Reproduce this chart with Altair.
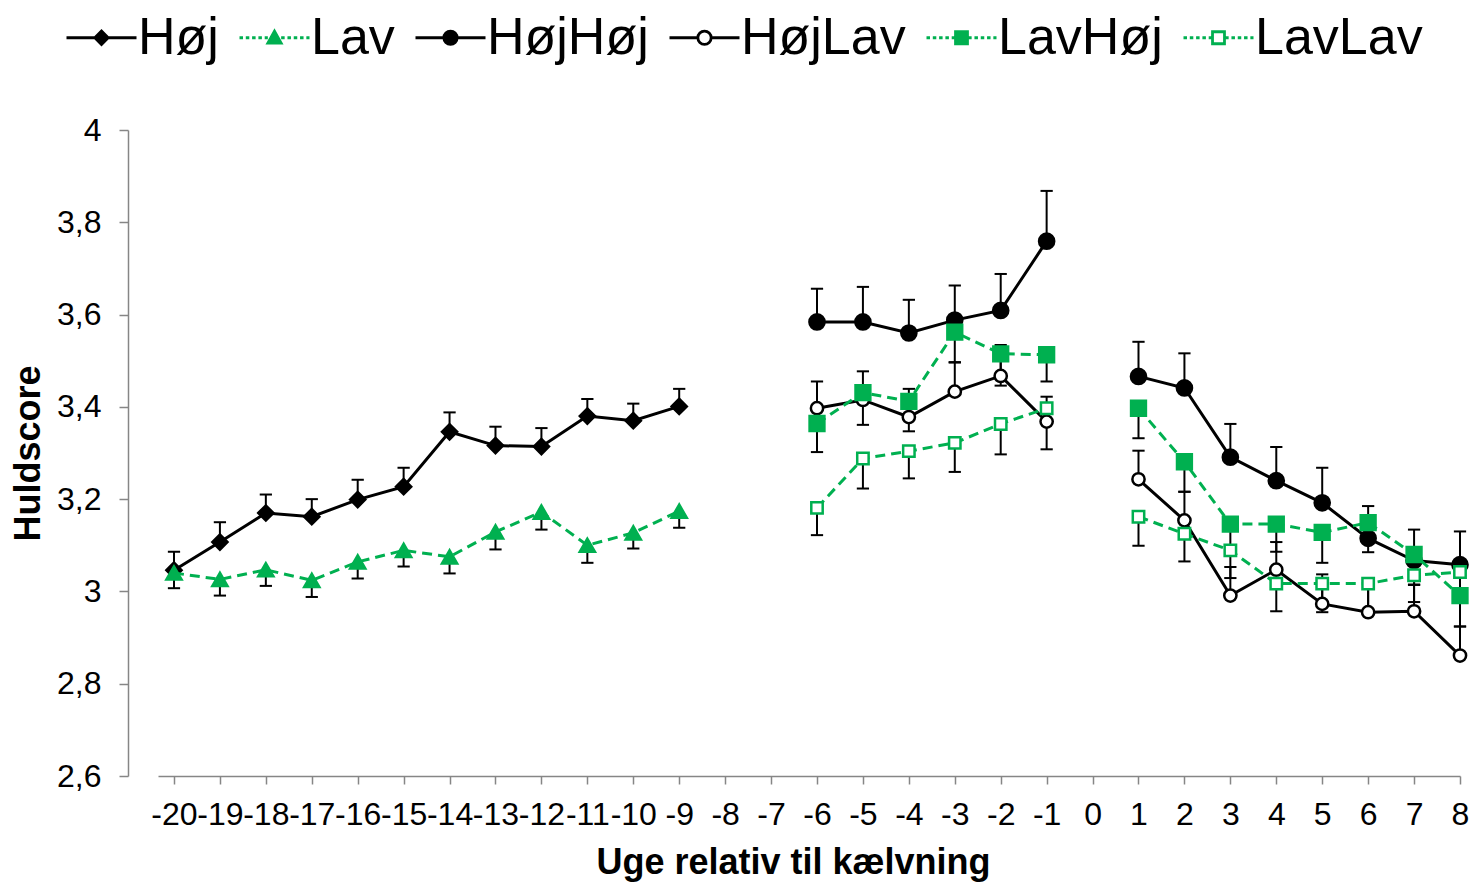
import altair as alt
import pandas as pd

GREEN = "#00B050"
GREY = "#868686"
FONT = "Liberation Sans"

# ---- data: weekly mean body condition score and its standard error ----
weeks_early = [-20, -19, -18, -17, -16, -15, -14, -13, -12, -11, -10, -9]
weeks_late = [-6, -5, -4, -3, -2, -1, 1, 2, 3, 4, 5, 6, 7, 8]

hoj = [3.046, 3.107, 3.170, 3.162, 3.199, 3.227, 3.346, 3.316, 3.314, 3.380, 3.370, 3.401]
hoj_se = [0.040, 0.043, 0.040, 0.038, 0.043, 0.041, 0.042, 0.041, 0.040, 0.037, 0.037, 0.038]

lav = [3.040, 3.026, 3.047, 3.024, 3.064, 3.089, 3.075, 3.129, 3.172, 3.100, 3.127, 3.174]
lav_se = [0.033, 0.035, 0.035, 0.036, 0.036, 0.035, 0.036, 0.038, 0.038, 0.038, 0.034, 0.036]

hojhoj = [3.584, 3.584, 3.560, 3.588, 3.609, 3.759, 3.466, 3.441, 3.291, 3.240, 3.192, 3.115, 3.067, 3.058]
hojhoj_se = [0.072, 0.076, 0.072, 0.075, 0.079, 0.109, 0.075, 0.075, 0.072, 0.073, 0.076, 0.070, 0.067, 0.072]

hojlav = [3.397, 3.415, 3.378, 3.433, 3.467, 3.368, 3.243, 3.154, 2.991, 3.047, 2.973, 2.955, 2.957, 2.861]
hojlav_se = [0.058, 0.062, 0.061, 0.063, 0.067, 0.054, 0.062, 0.062, 0.062, 0.060, 0.064, 0.060, 0.058, 0.063]

lavhoj = [3.364, 3.431, 3.412, 3.562, 3.515, 3.513, 3.397, 3.281, 3.146, 3.146, 3.128, 3.149, 3.080, 2.991]
lavhoj_se = [0.062, 0.070, 0.065, 0.065, 0.069, 0.058, 0.065, 0.065, 0.065, 0.060, 0.066, 0.064, 0.066, 0.067]

lavlav = [3.181, 3.288, 3.304, 3.322, 3.363, 3.397, 3.162, 3.125, 3.089, 3.017, 3.017, 3.017, 3.035, 3.042]
lavlav_se = [0.059, 0.065, 0.059, 0.063, 0.066, 0.089, 0.063, 0.060, 0.060, 0.060, 0.062, 0.060, 0.058, 0.060]

series_names = ["Høj", "Lav", "HøjHøj", "HøjLav", "LavHøj", "LavLav"]
series_data = {
    "Høj": (weeks_early, hoj, hoj_se),
    "Lav": (weeks_early, lav, lav_se),
    "HøjHøj": (weeks_late, hojhoj, hojhoj_se),
    "HøjLav": (weeks_late, hojlav, hojlav_se),
    "LavHøj": (weeks_late, lavhoj, lavhoj_se),
    "LavLav": (weeks_late, lavlav, lavlav_se),
}

# ---- styling per series ----
styles = {
    "Høj":    dict(line="black", dash=False, shape="diamond",     fill="black", stroke="black", size=230, up=True),
    "Lav":    dict(line=GREEN,   dash=True,  shape="triangle-up", fill=GREEN,   stroke=GREEN,   size=230, up=False),
    "HøjHøj": dict(line="black", dash=False, shape="circle",      fill="black", stroke="black", size=230, up=True),
    "HøjLav": dict(line="black", dash=False, shape="circle",      fill="white", stroke="black", size=150, up=True),
    "LavHøj": dict(line=GREEN,   dash=True,  shape="square",      fill=GREEN,   stroke=GREEN,   size=220, up=False),
    "LavLav": dict(line=GREEN,   dash=True,  shape="square",      fill="white", stroke=GREEN,   size=130, up=False),
}

rows = []
for name in series_names:
    wk, vals, se = series_data[name]
    sign = 1 if styles[name]["up"] else -1
    for w, v, e in zip(wk, vals, se):
        rows.append(dict(serie=name, week=w, value=v, end=v + sign * e,
                         seg="før" if w < 0 else "efter"))
df = pd.DataFrame(rows)

x_enc = alt.X(
    "week:Q",
    scale=alt.Scale(domain=[-20.348, 8], nice=False, zero=False),
    axis=alt.Axis(
        values=list(range(-20, 9)),
        labelExpr="'' + datum.value",
        labelOverlap=False, labelFlush=False, labelBound=False,
        tickSize=8, labelPadding=15,
        title="Uge relativ til kælvning", titleX=635, titlePadding=15,
    ),
)
y_enc = alt.Y(
    "value:Q",
    scale=alt.Scale(domain=[2.6, 4.0], nice=False, zero=False),
    axis=alt.Axis(
        values=[2.6, 2.8, 3.0, 3.2, 3.4, 3.6, 3.8, 4.0],
        labelExpr="replace(format(datum.value, '.1~f'), '.', ',')",
        offset=30, tickSize=9, labelPadding=18,
        title="Huldscore", titlePadding=9,
    ),
)

base = alt.Chart(df)

err_rules = base.mark_rule(color="black", strokeWidth=2).encode(
    x=x_enc, y=y_enc, y2="end:Q"
)
err_caps = base.mark_point(
    shape="M-1,0H1", size=150, color="black", strokeWidth=2, opacity=1
).encode(x=x_enc, y=alt.Y("end:Q"))

layers = [err_rules, err_caps]
for name in series_names:
    st = styles[name]
    sub = base.transform_filter(alt.datum.serie == name)
    line_kw = dict(color=st["line"], strokeWidth=3)
    if st["dash"]:
        line_kw["strokeDash"] = [10, 6]
    layers.append(sub.mark_line(**line_kw).encode(x=x_enc, y=y_enc, detail="seg:N"))
    layers.append(
        sub.mark_point(
            shape=st["shape"], size=st["size"], filled=True, fill=st["fill"],
            stroke=st["stroke"], strokeWidth=2.5, opacity=1,
        ).encode(x=x_enc, y=y_enc)
    )

# ---- legend: line segment with marker in the middle, drawn as one symbol path ----
R = 0.19
markers = {
    "diamond": f"M0,-{R}L{R},0L0,{R}L-{R},0Z",
    "triangle-up": f"M0,-{R}L{R},{R * 0.8}L-{R},{R * 0.8}Z",
    "circle": f"M{R},0A{R},{R},0,1,1,-{R},0A{R},{R},0,1,1,{R},0Z",
    "square": f"M-{R * 0.9},-{R * 0.9}H{R * 0.9}V{R * 0.9}H-{R * 0.9}Z",
}


def segment(a, b, dashed):
    if not dashed:
        return f"M{a:.3f},0H{b:.3f}"
    parts, pos, dash, gap = [], a, 0.1, 0.08
    while pos < b - 1e-6:
        parts.append(f"M{pos:.3f},0H{min(pos + dash, b):.3f}")
        pos += dash + gap
    return "".join(parts)


legend_paths = []
for name in series_names:
    st = styles[name]
    legend_paths.append(
        segment(-1, -R, st["dash"]) + segment(R, 1, st["dash"]) + markers[st["shape"]]
    )

legend_def = alt.Legend(
    title=None, orient="none", legendX=-93, legendY=-129, direction="horizontal",
    columns=6, symbolSize=4900, symbolStrokeWidth=2.8, labelFontSize=52,
    labelFont=FONT, labelColor="black", labelOffset=0, columnPadding=14,
    labelLimit=400, padding=0,
)
legend_df = pd.DataFrame({"serie": series_names, "week": [0] * 6, "value": [0.0] * 6})
legend_layer = (
    alt.Chart(legend_df)
    .transform_filter("datum.value > 10")
    .mark_point(size=4900, opacity=1, strokeWidth=2.8)
    .encode(
        x=x_enc, y=y_enc,
        shape=alt.Shape("serie:N", scale=alt.Scale(domain=series_names, range=legend_paths), legend=legend_def),
        fill=alt.Fill("serie:N", scale=alt.Scale(domain=series_names, range=[s["fill"] for s in styles.values()]), legend=legend_def),
        stroke=alt.Stroke("serie:N", scale=alt.Scale(domain=series_names, range=[s["stroke"] for s in styles.values()]), legend=legend_def),
    )
)
layers.append(legend_layer)

chart = (
    alt.layer(*layers)
    .properties(
        width=1302, height=646,
        autosize=alt.AutoSizeParams(type="none"),
        padding={"left": 158, "top": 130, "right": 14, "bottom": 107},
    )
    .configure_view(stroke=None)
    .configure_axis(
        grid=False, domainColor=GREY, domainWidth=1.5, tickColor=GREY, tickWidth=1.5,
        labelFont=FONT, labelFontSize=32, labelColor="black",
        titleFont=FONT, titleFontSize=36, titleFontWeight="bold", titleColor="black",
    )
)

chart.save("out.html", embed_options={"renderer": "svg", "actions": False})
